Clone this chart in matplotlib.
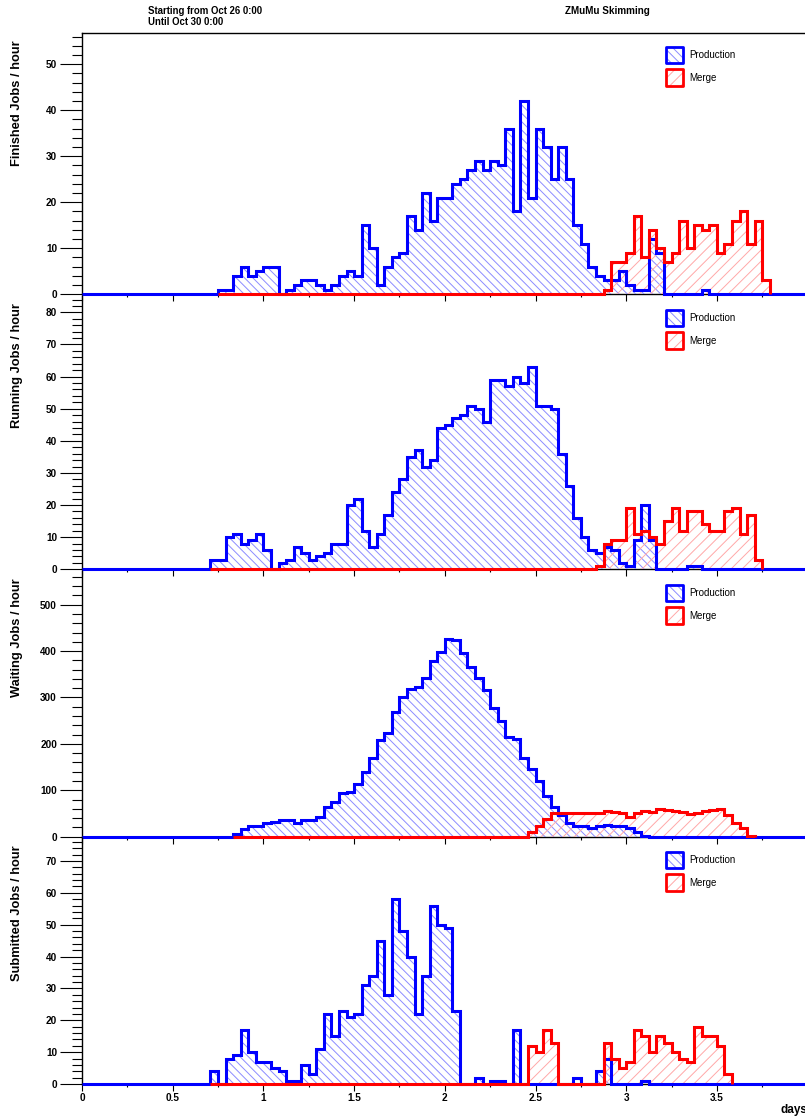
import numpy as np
import matplotlib
matplotlib.use("Agg")
import matplotlib.pyplot as plt
from matplotlib.patches import Rectangle
from matplotlib.ticker import MultipleLocator

plt.rcParams['font.family'] = ['Liberation Sans', 'DejaVu Sans']
plt.rcParams['hatch.linewidth'] = 0.7

# ---- data: jobs per hour, hour index counted from Oct 26 0:00 ----
NBINS = 96

fin_prod_start = 18
fin_prod = [1, 1, 4, 6, 4, 5, 6, 6, 0, 1, 2, 3, 3, 2, 1, 2, 4, 5, 4, 15,
            10, 2, 6, 8, 9, 17, 14, 22, 16, 21, 21, 24, 25, 27, 29, 27, 29, 28, 36, 18,
            42, 21, 36, 32, 25, 32, 25, 15, 11, 6, 4, 3, 3, 5, 2, 1, 1, 12, 9, 0,
            0, 0, 0, 0, 1]
fin_merge_range = (18, 90)
fin_merge_start = 69
fin_merge = [1, 7, 7, 9, 17, 8, 14, 10, 7, 9, 16, 10, 15, 14, 15, 9, 11, 16, 18, 11,
             16, 3]

run_prod_start = 17
run_prod = [3, 3, 10, 11, 8, 9, 11, 6, 0, 2, 3, 7, 5, 3, 4, 5, 8, 8, 20, 22,
            12, 7, 11, 17, 24, 28, 35, 37, 32, 34, 44, 45, 47, 48, 51, 50, 46, 59, 59, 57,
            60, 58, 63, 51, 51, 50, 36, 26, 16, 10, 6, 5, 7, 6, 2, 1, 9, 20, 9, 0,
            0, 0, 0, 1, 1]
run_merge_range = (17, 89)
run_merge_start = 68
run_merge = [1, 8, 9, 9, 19, 11, 12, 10, 8, 15, 19, 12, 18, 18, 14, 12, 12, 18, 19, 11,
             17, 3]

wait_prod_start = 20
wait_prod = [6, 17, 22, 22, 29, 32, 36, 35, 30, 35, 36, 43, 65, 74, 95, 97, 114, 139, 170, 208,
             224, 268, 302, 318, 323, 341, 379, 397, 425, 424, 396, 366, 341, 316, 277, 250, 214, 211, 170, 146,
             119, 88, 65, 47, 30, 24, 22, 19, 22, 25, 24, 22, 19, 11, 1]
wait_merge_range = (20, 88)
wait_merge_start = 59
wait_merge = [11, 22, 38, 52, 52, 52, 52, 52, 52, 52, 55, 54, 52, 42, 51, 55, 54, 60, 58, 55,
              54, 48, 52, 55, 58, 60, 47, 29, 19, 2]

sub_prod_start = 17
sub_prod = [4, 0, 8, 9, 17, 10, 7, 7, 5, 4, 1, 1, 6, 3, 11, 22, 15, 23, 21, 22,
            31, 34, 45, 28, 58, 48, 40, 22, 34, 56, 50, 49, 23, 0, 0, 2, 0, 1, 1, 0,
            17, 0, 0, 0, 0, 0, 0, 0, 2, 0, 0, 4, 8, 0, 0, 0, 0, 1]
sub_merge_range = (17, 85)
sub_merge_start = 59
sub_merge = [12, 10, 17, 13, 0, 0, 0, 0, 0, 0, 13, 8, 5, 7, 17, 15, 10, 15, 13, 10,
             8, 7, 18, 15, 15, 12, 3]

ylabels = ["Finished Jobs / hour", "Running Jobs / hour",
           "Waiting Jobs / hour", "Submitted Jobs / hour"]
legend_names = ["Production", "Merge"]


def full(start, vals):
    h = np.zeros(NBINS)
    h[start:start + len(vals)] = vals
    return h


def draw_hist(ax, h, lo, hi, line, hatch_col, hatch):
    edges = np.arange(lo, hi + 2) / 24.0
    vals = h[lo:hi + 1]
    ax.stairs(vals, edges, baseline=0, fill=True, facecolor='none',
              edgecolor=hatch_col, hatch=hatch, linewidth=0, zorder=2)
    ax.stairs(vals, edges, baseline=0, fill=False, edgecolor=line,
              linewidth=2.2, zorder=3, clip_on=False)


W, H = 805, 1118
fig = plt.figure(figsize=(W / 100, H / 100), dpi=100)

X0, X1 = 82, 807.6
boxes = [(33, 294.3), (296, 569.3), (571, 836.7), (838, 1084)]
ytops = [56.8, 85.1, 572.6, 77.2]
ymajor = [10, 10, 100, 10]
yminor = [2, 2, 20, 2]

prods = [full(fin_prod_start, fin_prod), full(run_prod_start, run_prod),
         full(wait_prod_start, wait_prod), full(sub_prod_start, sub_prod)]
merges = [full(fin_merge_start, fin_merge), full(run_merge_start, run_merge),
          full(wait_merge_start, wait_merge), full(sub_merge_start, sub_merge)]
mranges = [fin_merge_range, run_merge_range, wait_merge_range, sub_merge_range]

BLUE, RED = '#0000ff', '#ff0000'
BLUE_H, RED_H = '#8c8cff', '#ffa8a8'
HATCH_B, HATCH_R = '\\\\\\\\', '///'

for k in range(4):
    top, bot = boxes[k]
    ax = fig.add_axes([X0 / W, 1 - bot / H, (X1 - X0) / W, (bot - top) / H])
    draw_hist(ax, prods[k], 0, NBINS - 1, BLUE, BLUE_H, HATCH_B)
    lo, hi = mranges[k]
    draw_hist(ax, merges[k], lo, hi, RED, RED_H, HATCH_R)

    ax.set_xlim(0, 4)
    ax.set_ylim(0, ytops[k])
    ax.xaxis.set_major_locator(MultipleLocator(0.5))
    ax.xaxis.set_minor_locator(MultipleLocator(0.25))
    ax.yaxis.set_major_locator(MultipleLocator(ymajor[k]))
    ax.yaxis.set_minor_locator(MultipleLocator(yminor[k]))
    ax.tick_params(axis='x', which='major', direction='out', length=4.8, width=0.8, pad=2)
    ax.tick_params(axis='x', which='minor', direction='out', length=2.4, width=0.8)
    ax.tick_params(axis='y', which='major', direction='out', length=15.5, width=0.8, pad=2.5)
    ax.tick_params(axis='y', which='minor', direction='out', length=7.2, width=0.8)
    ax.tick_params(labelsize=7.2)
    for lab in ax.get_xticklabels() + ax.get_yticklabels():
        lab.set_fontweight('bold')
    ax.xaxis.set_major_formatter(plt.FuncFormatter(lambda v, p: f"{v:g}"))
    if k < 3:
        ax.tick_params(axis='x', labelbottom=False)
    ax.spines['right'].set_visible(False)
    if k > 0:
        ax.spines['top'].set_visible(False)
    for s in ax.spines.values():
        s.set_linewidth(1.0)
        s.set_zorder(1)
    ax.patch.set_visible(False)

    fig.text(17 / W, 1 - (top + 7) / H, ylabels[k], rotation=90, ha='center', va='top',
             fontsize=9.3, fontweight='bold')

    # legend
    for j, (col, hcol, hatch) in enumerate([(BLUE, BLUE_H, HATCH_B), (RED, RED_H, HATCH_R)]):
        by = top + 13.7 + j * 22.6
        fig.add_artist(Rectangle((665.7 / W, 1 - (by + 16.6) / H), 17.6 / W, 16.6 / H,
                                 transform=fig.transFigure, facecolor='none',
                                 edgecolor=hcol, hatch=hatch, linewidth=0))
        fig.add_artist(Rectangle((665.7 / W, 1 - (by + 16.6) / H), 17.6 / W, 16.6 / H,
                                 transform=fig.transFigure, facecolor='none',
                                 edgecolor=col, linewidth=2.0, joinstyle='round'))
        fig.text(689.3 / W, 1 - (by + 8.3) / H, legend_names[j], ha='left', va='center',
                 fontsize=7)

fig.text(148 / W, 1 - 11 / H, "Starting from Oct 26 0:00", ha='left', va='center',
         fontsize=6.9, fontweight='bold')
fig.text(148 / W, 1 - 22 / H, "Until Oct 30 0:00", ha='left', va='center',
         fontsize=6.9, fontweight='bold')
fig.text(607 / W, 1 - 11 / H, "ZMuMu Skimming", ha='center', va='center',
         fontsize=7.1, fontweight='bold')
fig.text(807 / W, 1 - 1110 / H, "days", ha='right', va='center',
         fontsize=8.5, fontweight='bold')

fig.savefig("out.png", dpi=100)
